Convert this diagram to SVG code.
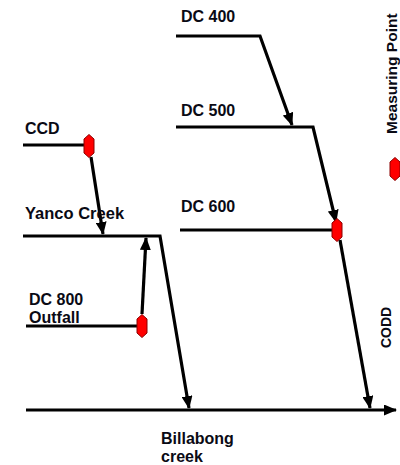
<svg xmlns="http://www.w3.org/2000/svg" xmlns:xlink="http://www.w3.org/1999/xlink" width="400" height="465" viewBox="0 0 400 465">
<style>
text{font-family:"Liberation Sans",Arial,sans-serif;font-weight:bold;font-size:16px;fill:#0a0a14}
.ln{fill:none;stroke:#000;stroke-width:3.2;stroke-linejoin:miter}
.mp{fill:#ff0000;stroke:#8b0000;stroke-width:1;stroke-linejoin:round}
</style>
<defs>
<marker id="ah" viewBox="0 0 13 11" refX="12" refY="5.5" markerWidth="13" markerHeight="11" markerUnits="userSpaceOnUse" orient="auto">
<path d="M0,0 L13,5.5 L0,11 Z" fill="#000"/>
</marker>
<polygon id="mk" class="mp" points="-5,-7 0,-11.5 5,-7 5,7 0,11.5 -5,7"/>
</defs>
<rect width="400" height="465" fill="#fff"/>
<g id="connectors">
<polyline class="ln" points="176,36 260,36 292,125" marker-end="url(#ah)"/>
<polyline class="ln" points="176,127 313,127 336,222" marker-end="url(#ah)"/>
<line class="ln" x1="180" y1="230" x2="333" y2="230"/>
<line class="ln" x1="340" y1="240" x2="370" y2="408" marker-end="url(#ah)"/>
<line class="ln" x1="23" y1="145" x2="85" y2="145"/>
<line class="ln" x1="91" y1="157" x2="103" y2="234" marker-end="url(#ah)"/>
<polyline class="ln" points="23,236 160,236 189,408" marker-end="url(#ah)"/>
<line class="ln" x1="26" y1="326" x2="138" y2="326"/>
<line class="ln" x1="142" y1="314" x2="146" y2="238" marker-end="url(#ah)"/>
<line class="ln" x1="26" y1="410" x2="396" y2="410" marker-end="url(#ah)"/>
</g>
<g id="dc400"><text x="181" y="22">DC 400</text></g>
<g id="dc500"><text x="181" y="116">DC 500</text></g>
<g id="dc600"><text x="181" y="212">DC 600</text><use xlink:href="#mk" x="337" y="230"/></g>
<g id="ccd"><text x="25" y="134">CCD</text><use xlink:href="#mk" x="89" y="146"/></g>
<g id="yanco"><text x="25" y="219" style="font-size:16.5px">Yanco Creek</text></g>
<g id="dc800"><text x="29" y="305">DC 800</text><text x="29" y="323">Outfall</text><use xlink:href="#mk" x="142" y="326"/></g>
<g id="billabong"><text x="161" y="444">Billabong</text><text x="161" y="462">creek</text></g>
<g id="codd"><text transform="translate(391,348) rotate(-90)" style="font-size:14px">CODD</text></g>
<g id="legend"><text transform="translate(397,134) rotate(-90)" style="font-size:15.5px">Measuring Point</text><use xlink:href="#mk" x="395" y="169"/></g>
</svg>
